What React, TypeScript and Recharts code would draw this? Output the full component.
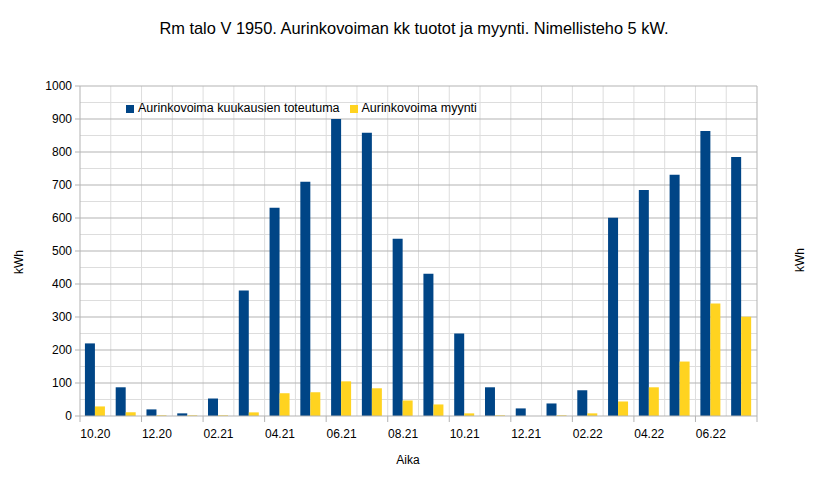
import { BarChart, Bar, XAxis, YAxis, CartesianGrid, Legend } from "recharts";

const months = [
  "10.20", "11.20", "12.20", "01.21", "02.21", "03.21", "04.21", "05.21", "06.21", "07.21", "08.21",
  "09.21", "10.21", "11.21", "12.21", "01.22", "02.22", "03.22", "04.22", "05.22", "06.22", "07.22",
];
// kuukauden tuotto (kWh)
const production = [220, 87, 20, 8, 53, 380, 631, 710, 900, 858, 537, 431, 250, 87, 23, 38, 78, 601, 685, 731, 864, 785];
// myynti verkkoon (kWh)
const sales = [29, 11, 2, 2, 2, 11, 69, 72, 105, 84, 47, 35, 8, 2, 0, 2, 8, 44, 87, 165, 341, 301];
const yTicks = [0, 100, 200, 300, 400, 500, 600, 700, 800, 900, 1000];
const minorTicks = yTicks.slice(0, -1).map((v) => v + 50);

const data = months.map((m, i) => ({ month: m, tuotto: production[i], myynti: sales[i] }));

const FONT = "'Liberation Sans', Arial, sans-serif";
const W = 814;
const H = 479;

const yPos = (offset: any, v: number) => offset.top + offset.height * (1 - v / 1000);

function MonthTick(props: any) {
  const { x, y, payload, index } = props;
  const half = payload?.offset ?? 15.4;
  const top = y - 8;
  return (
    <g>
      <line x1={x - half} x2={x - half} y1={top} y2={top + 6} stroke="#b3b3b3" />
      {index === 10 && <line x1={x + 3 * half} x2={x + 3 * half} y1={top} y2={top + 6} stroke="#b3b3b3" />}
      <text x={x} y={y + 14} textAnchor="middle" fontSize={12} fontFamily={FONT} fill="#000">
        {payload.value}
      </text>
    </g>
  );
}

export default function App() {
  return (
    <div style={{ position: "absolute", left: 0, top: 0, width: W, height: H, background: "#fff", fontFamily: FONT }}>
      <div
        style={{
          position: "absolute",
          left: 0,
          width: W,
          top: 19,
          textAlign: "center",
          fontSize: 16.4,
          color: "#000",
          paddingLeft: 7,
        }}
      >
        Rm talo V 1950. Aurinkovoiman kk tuotot ja myynti. Nimellisteho 5 kW.
      </div>
      <BarChart
        width={W}
        height={H}
        data={data}
        margin={{ top: 86, right: 17, bottom: 33, left: 20 }}
        barCategoryGap="16%"
        barGap={0}
      >
        <CartesianGrid
          stroke="#dddddd"
          horizontalCoordinatesGenerator={({ offset }: any) => minorTicks.map((v) => yPos(offset, v))}
          verticalCoordinatesGenerator={({ offset }: any) =>
            months.map((_, i) => offset.left + (offset.width * (i + 1)) / months.length).slice(0, -1)
          }
        />
        <CartesianGrid
          stroke="#b3b3b3"
          vertical={false}
          horizontalCoordinatesGenerator={({ offset }: any) => yTicks.slice(1).map((v) => yPos(offset, v))}
        />
        <XAxis
          dataKey="month"
          interval={1}
          height={30}
          tickLine={false}
          axisLine={{ stroke: "#b3b3b3" }}
          tick={<MonthTick />}
          label={{
            content: () => (
              <text x={408} y={464} textAnchor="middle" fontSize={12} fontFamily={FONT} fill="#000">
                Aika
              </text>
            ),
          }}
        />
        <YAxis
          yAxisId="left"
          domain={[0, 1000]}
          ticks={yTicks}
          width={60}
          tickSize={5}
          tickMargin={3}
          tickLine={{ stroke: "#b3b3b3" }}
          axisLine={{ stroke: "#b3b3b3" }}
          tick={{ fill: "#000", fontSize: 12, fontFamily: FONT }}
          label={{
            content: () => (
              <text x={23} y={262} transform="rotate(-90 23 262)" textAnchor="middle" fontSize={12} fontFamily={FONT} fill="#000">
                kWh
              </text>
            ),
          }}
        />
        <YAxis
          yAxisId="right"
          orientation="right"
          domain={[0, 1000]}
          ticks={[0]}
          width={40}
          tickSize={6}
          tickMargin={3}
          tickLine={{ stroke: "#b3b3b3" }}
          axisLine={{ stroke: "#b3b3b3" }}
          tick={{ fill: "#000", fontSize: 12, fontFamily: FONT }}
          label={{
            content: () => (
              <text x={804} y={260} transform="rotate(-90 804 260)" textAnchor="middle" fontSize={12} fontFamily={FONT} fill="#000">
                kWh
              </text>
            ),
          }}
        />
        <Legend
          verticalAlign="middle"
          align="center"
          layout="horizontal"
          iconType="square"
          iconSize={8}
          wrapperStyle={{ top: 101, left: 126, width: "auto", fontSize: 12.5, fontFamily: FONT }}
          formatter={(value: string) => <span style={{ color: "#000" }}>{value}</span>}
        />
        <Bar yAxisId="left" dataKey="tuotto" name="Aurinkovoima kuukausien toteutuma" fill="#004586" isAnimationActive={false} />
        <Bar yAxisId="left" dataKey="myynti" name="Aurinkovoima myynti" fill="#ffd320" isAnimationActive={false} />
      </BarChart>
    </div>
  );
}
